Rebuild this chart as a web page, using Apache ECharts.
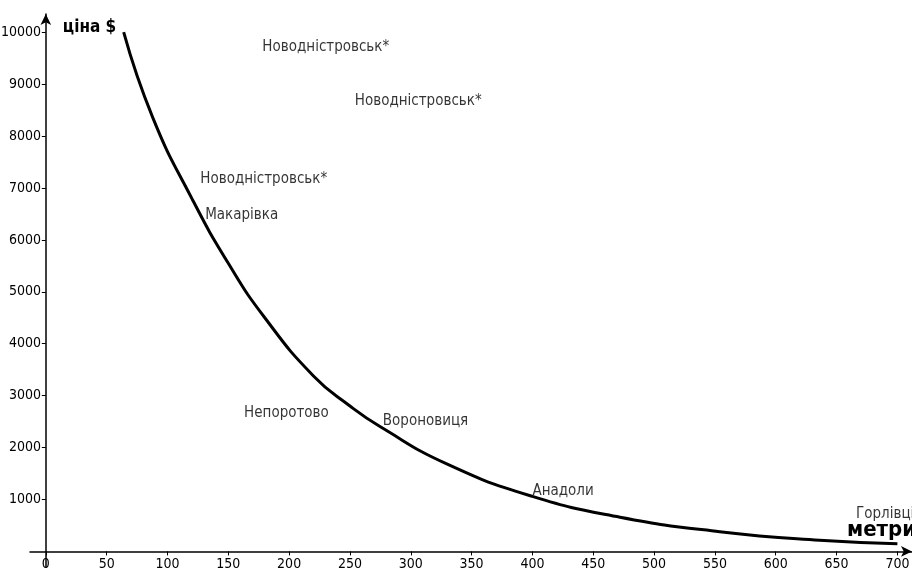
<!DOCTYPE html>
<html>
<head>
<meta charset="utf-8">
<script src="https://cdn.jsdelivr.net/npm/echarts@6/dist/echarts.min.js"></script>
<style>
  html, body { margin: 0; padding: 0; background: #fff; }
  #chart { width: 912px; height: 573px; }
</style>
</head>
<body>
<div id="chart"></div>
<script>
// крива ціни від площі
const curveX = [64, 88, 120, 150, 180, 220, 250, 275, 330, 400, 472, 554, 636, 700]
const curveY = [10000, 8350, 6800, 5550, 4500, 3380, 2800, 2400, 1680, 1060, 660, 380, 215, 150]

// населені пункти: метри, ціна, назва
const placeX = [178, 254, 127, 131, 163, 277, 400, 666]
const placeY = [9711, 8670, 7168, 6474, 2659, 2505, 1156, 713]
const placeNames = ['Новодністровськ*', 'Новодністровськ*', 'Новодністровськ*', 'Макарівка',
  'Непоротово', 'Вороновиця', 'Анадоли', 'Горлівці']

const xTicks = [0, 50, 100, 150, 200, 250, 300, 350, 400, 450, 500, 550, 600, 650, 700]
const yTicks = [1000, 2000, 3000, 4000, 5000, 6000, 7000, 8000, 9000, 10000]

// вузький шрифт: font-stretch через fontStyle
const font = "'DejaVu Sans', sans-serif"
const narrow = 'condensed'

const chart = echarts.init(document.getElementById('chart'))

const axisLine = {
  onZero: true,
  symbol: ['none', 'arrow'],
  symbolSize: [8, 11],
  lineStyle: { color: '#000', width: 1.5 }
}

chart.setOption({
  animation: false,
  backgroundColor: '#fff',
  grid: { left: 30, right: 0, top: 14, bottom: 6, containLabel: false, outerBoundsMode: 'none' },
  // підпис осі X (ім'я осі не слухається padding, тому окремо)
  graphic: [
    {
      type: 'text',
      x: 847,
      y: 530,
      z: 10,
      style: {
        text: 'метри',
        fontFamily: font,
        fontStyle: narrow,
        fontWeight: 'bold',
        fontSize: 22,
        fill: '#000',
        align: 'left',
        verticalAlign: 'middle'
      }
    }
  ],
  xAxis: {
    type: 'value',
    min: -13,
    max: 712,
    axisLine: axisLine,
    axisTick: { customValues: xTicks, length: 4, lineStyle: { color: '#000' } },
    axisLabel: {
      customValues: xTicks, formatter: (v) => String(v),
      fontFamily: font, fontStyle: narrow, fontSize: 14, color: '#000', margin: -10
    },
    splitLine: { show: false }
  },
  yAxis: {
    type: 'value',
    min: -300,
    max: 10350,
    name: 'ціна $',
    nameLocation: 'end',
    nameGap: -14,
    nameMoveOverlap: false,
    nameTextStyle: {
      fontFamily: font, fontStyle: narrow, fontSize: 17, fontWeight: 'bold', color: '#000',
      align: 'left', verticalAlign: 'middle', padding: [0, 0, 0, 17]
    },
    axisLine: axisLine,
    axisTick: { customValues: yTicks, length: 4, lineStyle: { color: '#000' } },
    axisLabel: {
      customValues: yTicks, formatter: (v) => String(v),
      fontFamily: font, fontStyle: narrow, fontSize: 14, color: '#000', margin: -11
    },
    splitLine: { show: false }
  },
  series: [
    {
      type: 'line',
      data: curveX.map((x, i) => [x, curveY[i]]),
      smooth: true,
      showSymbol: false,
      lineStyle: { color: '#000', width: 3 },
      z: 3
    },
    {
      type: 'scatter',
      data: placeX.map((x, i) => [x, placeY[i], placeNames[i]]),
      symbolSize: 0,
      label: {
        show: true,
        position: 'right',
        distance: 0,
        formatter: (p) => p.data[2],
        fontFamily: font,
        fontStyle: narrow,
        fontSize: 15,
        color: '#000'
      },
      z: 4
    }
  ]
})
</script>
</body>
</html>
